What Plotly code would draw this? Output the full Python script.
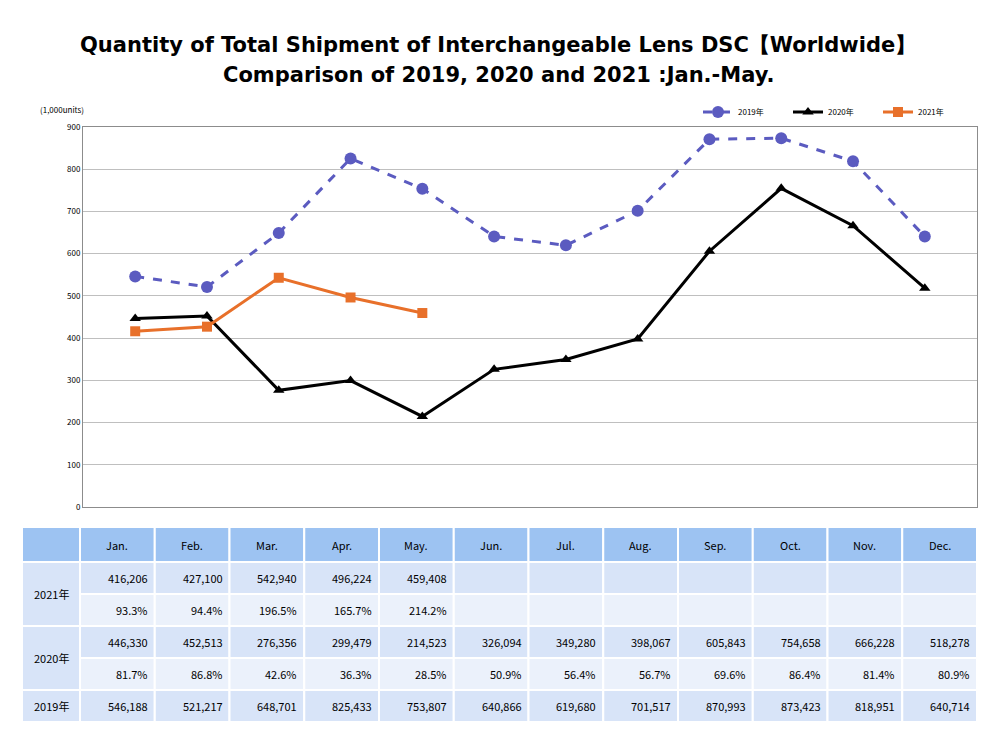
import plotly.graph_objects as go

months = ["Jan.", "Feb.", "Mar.", "Apr.", "May.", "Jun.", "Jul.", "Aug.", "Sep.", "Oct.", "Nov.", "Dec."]

units_2019 = [546188, 521217, 648701, 825433, 753807, 640866, 619680, 701517, 870993, 873423, 818951, 640714]
units_2020 = [446330, 452513, 276356, 299479, 214523, 326094, 349280, 398067, 605843, 754658, 666228, 518278]
units_2021 = [416206, 427100, 542940, 496224, 459408]

ratio_2020 = ["81.7%", "86.8%", "42.6%", "36.3%", "28.5%", "50.9%", "56.4%", "56.7%", "69.6%", "86.4%", "81.4%", "80.9%"]
ratio_2021 = ["93.3%", "94.4%", "196.5%", "165.7%", "214.2%"]

FONT = "Noto Sans CJK JP"
TITLE_FONT = "DejaVu Sans"
W, H = 1000, 744
OFF = 8  # page body margin shifts the figure by this much
L, R, T, B = 83 - OFF, 23 + OFF, 127 - OFF, 237 + OFF   # plot area margins in px


def px_x(x):
    # x given in screen px of the reference
    return (x - OFF - L) / (W - L - R)


def px_y(y):
    return (H - B - (y - OFF)) / (H - T - B)


fig = go.Figure()

fig.add_trace(go.Scatter(
    x=months, y=[v / 1000 for v in units_2019], name="2019年", mode="lines+markers",
    line=dict(color="#5B5BC0", width=3, dash="dash"),
    marker=dict(symbol="circle", size=12, color="#5B5BC0"),
))
fig.add_trace(go.Scatter(
    x=months, y=[v / 1000 for v in units_2020], name="2020年", mode="lines+markers",
    line=dict(color="black", width=3),
    marker=dict(symbol="triangle-up", size=10, color="black"),
))
fig.add_trace(go.Scatter(
    x=months[:len(units_2021)], y=[v / 1000 for v in units_2021], name="2021年", mode="lines+markers",
    line=dict(color="#E8702A", width=3),
    marker=dict(symbol="square", size=10, color="#E8702A"),
))

# --- table under the chart ---
shapes = []
annotations = []
col_edges = [80 + 74.75 * i for i in range(13)]
label_left = 22
row_edges = [527, 562, 594, 626, 658, 690, 722]

header_col = "#9DC3F2"
row_a = "#D8E4F8"
row_b = "#EBF1FB"


def cell(x0, x1, y0, y1, color):
    shapes.append(dict(type="rect", xref="paper", yref="paper",
                       x0=px_x(x0), x1=px_x(x1), y0=px_y(y0), y1=px_y(y1),
                       fillcolor=color, line=dict(color="white", width=2), layer="above"))


def text(x, y, s, anchor="center", size=11, bold=False, family=FONT):
    annotations.append(dict(xref="paper", yref="paper", x=px_x(x), y=px_y(y), text=s,
                            showarrow=False, xanchor=anchor, yanchor="middle",
                            font=dict(family=family, size=size, color="black",
                                      weight="bold" if bold else "normal")))


# header
cell(label_left, col_edges[0], row_edges[0], row_edges[1], header_col)
for i, m in enumerate(months):
    cell(col_edges[i], col_edges[i + 1], row_edges[0], row_edges[1], header_col)
    text((col_edges[i] + col_edges[i + 1]) / 2, (row_edges[0] + row_edges[1]) / 2, m)

# year label cells
year_rows = [("2021年", 1, 3), ("2020年", 3, 5), ("2019年", 5, 6)]
for lab, r0, r1 in year_rows:
    cell(label_left, col_edges[0], row_edges[r0], row_edges[r1], row_a)
    text((label_left + col_edges[0]) / 2, (row_edges[r0] + row_edges[r1]) / 2, lab)

table_rows = [
    ([f"{v:,}" for v in units_2021], row_a),
    (ratio_2021, row_b),
    ([f"{v:,}" for v in units_2020], row_a),
    (ratio_2020, row_b),
    ([f"{v:,}" for v in units_2019], row_a),
]
for r, (vals, color) in enumerate(table_rows):
    y0, y1 = row_edges[r + 1], row_edges[r + 2]
    for i in range(12):
        cell(col_edges[i], col_edges[i + 1], y0, y1, color)
        if i < len(vals):
            text(col_edges[i + 1] - 5, (y0 + y1) / 2, vals[i], anchor="right")

text(62, 109, "(1,000units)", size=8)

# title lines
text(498, 45, "Quantity of Total Shipment of Interchangeable Lens DSC【Worldwide】",
     size=21, bold=True, family=TITLE_FONT)
text(498, 75, "Comparison of 2019, 2020 and 2021 :Jan.-May.",
     size=21, bold=True, family=TITLE_FONT)

fig.update_layout(
    width=W, height=H,
    margin=dict(l=L, r=R, t=T, b=B),
    paper_bgcolor="white", plot_bgcolor="white",
    showlegend=True,
    legend=dict(orientation="h", x=px_x(698), y=px_y(112), xanchor="left", yanchor="middle",
                font=dict(family=FONT, size=8, color="black"), bgcolor="rgba(0,0,0,0)",
                itemwidth=30, entrywidth=45),
    shapes=shapes,
    annotations=annotations,
)
fig.update_xaxes(showticklabels=False, showgrid=False, showline=True, mirror=True,
                 linecolor="#8C8C8C", linewidth=1, ticks="")
fig.update_yaxes(range=[0, 900], dtick=100, showgrid=True, gridcolor="#BFBFBF",
                 showline=True, mirror=True, linecolor="#8C8C8C", linewidth=1,
                 zeroline=False, tickfont=dict(family=FONT, size=8, color="black"))

fig.write_html("out.html")
